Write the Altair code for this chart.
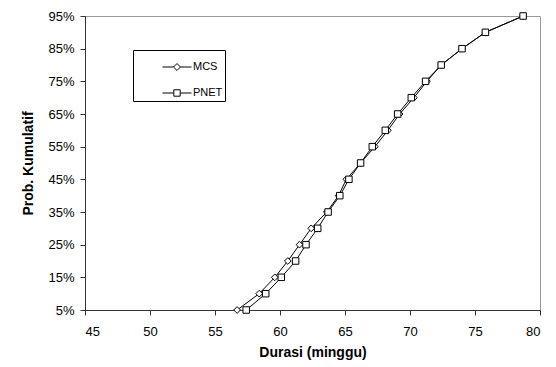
import altair as alt
import pandas as pd

prob = [5, 10, 15, 20, 25, 30, 35, 40, 45, 50, 55, 60, 65, 70, 75, 80, 85, 90, 95]
mcs = [56.7, 58.4, 59.6, 60.6, 61.5, 62.4, 63.6, 64.5, 65.1, 66.2, 67.3, 68.3, 69.2, 70.3, 71.3, 72.4, 74.0, 75.8, 78.7]
pnet = [57.4, 58.9, 60.1, 61.2, 62.0, 62.9, 63.7, 64.6, 65.3, 66.2, 67.1, 68.1, 69.05, 70.1, 71.2, 72.4, 74.0, 75.8, 78.7]
series = ["MCS", "PNET"]

rows = []
for name, vals in zip(series, [mcs, pnet]):
    for p, v in zip(prob, vals):
        rows.append({"series": name, "durasi": v, "prob": p / 100.0})
df = pd.DataFrame(rows)

FONT = "Liberation Sans"
diamond_path = "M-1,0L-0.24,0M0.24,0L1,0M0,-0.24L0.24,0L0,0.24L-0.24,0Z"
square_path = "M-1,0L-0.24,0M0.24,0L1,0M-0.22,-0.22L0.22,-0.22L0.22,0.22L-0.22,0.22Z"

x = alt.X("durasi:Q", title="Durasi (minggu)",
          scale=alt.Scale(domain=[45, 80], nice=False, zero=False),
          axis=alt.Axis(values=list(range(45, 81, 5)), grid=False, tickSize=5,
                        labelPadding=10, titlePadding=7))
y = alt.Y("prob:Q", title="Prob. Kumulatif",
          scale=alt.Scale(domain=[0.05, 0.95], nice=False, zero=False),
          axis=alt.Axis(values=[p / 100.0 for p in range(5, 96, 10)], format=".0%",
                        grid=False, tickSize=5, labelPadding=6, titlePadding=12))

lines = alt.Chart(df).mark_line(color="black", strokeWidth=1).encode(
    x=x, y=y, detail="series:N")

points = alt.Chart(df).mark_point(filled=False, fill="white", fillOpacity=1,
                                  stroke="black", strokeWidth=1, opacity=1).encode(
    x=x, y=y,
    shape=alt.Shape("series:N",
                    scale=alt.Scale(domain=series, range=["diamond", "square"]),
                    legend=None),
    size=alt.Size("series:N", scale=alt.Scale(domain=series, range=[45, 42]), legend=None),
)

legend_layer = alt.Chart(df).mark_point(filled=False, opacity=0).encode(
    x=x, y=y,
    shape=alt.Shape("series:N",
                    scale=alt.Scale(domain=series, range=[diamond_path, square_path]),
                    legend=alt.Legend(
                        title=None, orient="none", legendX=48, legendY=34,
                        strokeColor="black", fillColor="white", padding=2,
                        symbolSize=841, symbolOffset=27, rowPadding=5,
                        labelOffset=1, labelFont=FONT, labelFontSize=11,
                        labelExpr="datum.label + '  '",
                        labelColor="black", symbolStrokeColor="black",
                        symbolFillColor="white", symbolStrokeWidth=1,
                        symbolOpacity=1)),
)

chart = alt.layer(lines, points, legend_layer).resolve_scale(
    shape="independent", size="independent"
).properties(
    width=455, height=294,
    padding={"left": 85, "top": 16, "right": 16, "bottom": 57},
    autosize=alt.AutoSizeParams(type="none"),
    background="white",
).configure_view(stroke="#999999", strokeWidth=1).configure_axis(
    labelFont=FONT, labelFontSize=13, labelColor="black",
    titleFont=FONT, titleFontSize=14, titleFontWeight="bold", titleColor="black",
    domainColor="#333333", tickColor="#333333", domainWidth=1,
)

chart.save("out.html", embed_options={"renderer": "svg", "actions": False})
